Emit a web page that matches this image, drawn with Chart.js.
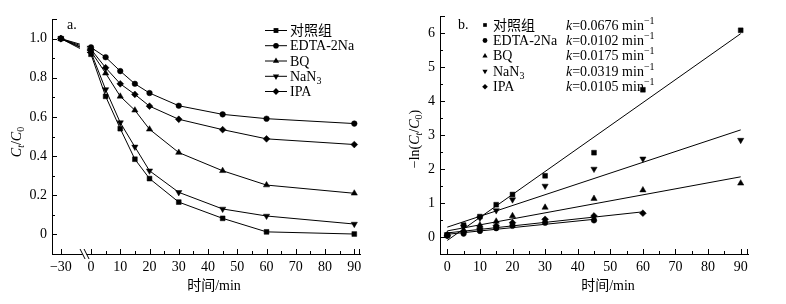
<!DOCTYPE html>
<html>
<head>
<meta charset="utf-8">
<script src="https://cdn.jsdelivr.net/npm/chart.js@4.4.1/dist/chart.umd.min.js"></script>
<style>
  html, body { margin: 0; padding: 0; background: #fff; }
  body { width: 786px; height: 304px; overflow: hidden; position: relative; }
  .wrap { position: absolute; top: 0; width: 393px; height: 304px; }
  #w1 { left: 0; }
  #w2 { left: 393px; }
</style>
</head>
<body>
<div class="wrap" id="w1"><canvas id="c1" width="393" height="304"></canvas></div>
<div class="wrap" id="w2"><canvas id="c2" width="393" height="304"></canvas></div>
<script>
// ================= DATA =================
// Panel a: Ct/C0 versus time (min); -30 is the dark adsorption start (broken axis)
const times = [-30, 0, 5, 10, 15, 20, 30, 45, 60, 90];
const seriesNames = ['对照组', 'EDTA-2Na', 'BQ', 'NaN3', 'IPA'];
const ctrlRatio = [1.0, 0.92, 0.705, 0.54, 0.384, 0.285, 0.165, 0.082, 0.013, 0.002];
const edtaRatio = [1.0, 0.955, 0.905, 0.834, 0.769, 0.722, 0.657, 0.613, 0.591, 0.566];
const bqRatio   = [1.0, 0.935, 0.823, 0.705, 0.634, 0.537, 0.418, 0.325, 0.252, 0.210];
const nan3Ratio = [1.0, 0.93, 0.740, 0.571, 0.447, 0.325, 0.215, 0.130, 0.094, 0.053];
const ipaRatio  = [1.0, 0.945, 0.851, 0.769, 0.715, 0.655, 0.588, 0.535, 0.488, 0.459];

// Panel b: -ln(Ct/C0) versus time (min)
const kTimes = [0, 5, 10, 15, 20, 30, 45, 60, 90];
const ctrlLn = [0.06, 0.35, 0.60, 0.95, 1.25, 1.80, 2.48, 4.33, 6.08];
const edtaLn = [0.04, 0.10, 0.18, 0.26, 0.33, 0.42, 0.49];
const bqLn   = [0.07, 0.20, 0.35, 0.46, 0.62, 0.87, 1.13, 1.38, 1.58];
const nan3Ln = [0.07, 0.30, 0.56, 0.78, 1.10, 1.50, 2.00, 2.30, 2.85];
const ipaLn  = [0.05, 0.16, 0.26, 0.33, 0.42, 0.52, 0.62, 0.70];

// Fitted lines (end points): times and values
const ctrlFitT = [0, 90]; const ctrlFit = [-0.10, 5.98];
const edtaFitT = [0, 45]; const edtaFit = [0.08, 0.52];
const bqFitT   = [0, 90]; const bqFit   = [0.18, 1.77];
const nan3FitT = [0, 90]; const nan3Fit = [0.29, 3.15];
const ipaFitT  = [0, 60]; const ipaFit  = [0.12, 0.74];
const kValues = ['0.0676', '0.0102', '0.0175', '0.0319', '0.0105'];

// Tick labels
const xTicksA = [-30, 0, 10, 20, 30, 40, 50, 60, 70, 80, 90];
const yTicksA = [0, 0.2, 0.4, 0.6, 0.8, 1.0];
const yLabelsA = ['0', '0.2', '0.4', '0.6', '0.8', '1.0'];
const xTicksB = [0, 10, 20, 30, 40, 50, 60, 70, 80, 90];
const yTicksB = [0, 1, 2, 3, 4, 5, 6];

// ================= STYLE / LAYOUT =================
const SERIF = "'Liberation Serif', 'Noto Sans CJK SC', serif";
const BREAK_POS = -10.3;        // plotted position of the -30 min point on the broken axis
const GAP_FROM = -3.8, GAP_TO = -1.4, BREAK_AT = -2.2;
const xPos = t => (t < 0 ? BREAK_POS : t);
const markers = [
  { style: 'rect', r: 3.4, rot: 0 },
  { style: 'circle', r: 2.8, rot: 0 },
  { style: 'triangle', r: 3.6, rot: 0 },
  { style: 'triangle', r: 3.6, rot: 180 },
  { style: 'rectRot', r: 3.4, rot: 0 }
];

function fontOf(p) {
  return (p.italic ? 'italic ' : '') + (p.size || 14) + 'px ' + SERIF;
}
function drawRich(ctx, parts, x, y, align) {
  let w = 0;
  parts.forEach(p => { ctx.font = fontOf(p); w += ctx.measureText(p.t).width; });
  let cx = align === 'center' ? x - w / 2 : x;
  ctx.textAlign = 'left';
  ctx.textBaseline = 'alphabetic';
  parts.forEach(p => {
    ctx.font = fontOf(p);
    ctx.fillText(p.t, cx, y + (p.dy || 0));
    cx += ctx.measureText(p.t).width;
  });
}
function nameParts(i) {
  if (i === 3) return [{ t: 'NaN' }, { t: '3', size: 10, dy: 3 }];
  return [{ t: seriesNames[i] }];
}
function drawMarker(ctx, style, r, rot, x, y) {
  ctx.save();
  ctx.translate(x, y);
  ctx.rotate(rot * Math.PI / 180);
  ctx.beginPath();
  if (style === 'rect') {
    const s = r * Math.SQRT1_2;
    ctx.rect(-s, -s, 2 * s, 2 * s);
  } else if (style === 'circle') {
    ctx.arc(0, 0, r, 0, Math.PI * 2);
  } else if (style === 'triangle') {
    for (let k = 0; k < 3; k++) {
      const a = k * 2 * Math.PI / 3;
      const px = Math.sin(a) * r, py = -Math.cos(a) * r;
      if (k === 0) ctx.moveTo(px, py); else ctx.lineTo(px, py);
    }
    ctx.closePath();
  } else if (style === 'rectRot') {
    ctx.moveTo(0, -r); ctx.lineTo(r, 0); ctx.lineTo(0, r); ctx.lineTo(-r, 0); ctx.closePath();
  }
  ctx.fillStyle = '#000';
  ctx.fill();
  ctx.restore();
}
function drawTicks(chart, xMajor, xMinor, yMajor, yMinor) {
  const { ctx, chartArea: a, scales: { x, y } } = chart;
  ctx.save();
  ctx.strokeStyle = '#000';
  ctx.lineWidth = 1;
  ctx.beginPath();
  const XP = v => Math.round(x.getPixelForValue(v)) + 0.5;
  const YP = v => Math.round(y.getPixelForValue(v)) + 0.5;
  xMajor.forEach(v => { const p = XP(v); ctx.moveTo(p, a.bottom); ctx.lineTo(p, a.bottom - 5); });
  xMinor.forEach(v => { const p = XP(v); ctx.moveTo(p, a.bottom); ctx.lineTo(p, a.bottom - 3); });
  yMajor.forEach(v => { const p = YP(v); ctx.moveTo(a.left, p); ctx.lineTo(a.left + 5, p); });
  yMinor.forEach(v => { const p = YP(v); ctx.moveTo(a.left, p); ctx.lineTo(a.left + 3, p); });
  // end caps
  const r = Math.round(a.right) - 0.5;
  ctx.moveTo(r, a.bottom); ctx.lineTo(r, a.bottom - 5);
  const t = Math.round(a.top) + 0.5;
  ctx.moveTo(a.left, t); ctx.lineTo(a.left + 5, t);
  ctx.stroke();
  ctx.restore();
}
function axisCommon(min, max, sizeKey, size) {
  return {
    type: 'linear', min, max,
    grid: { display: false, drawTicks: false },
    border: { display: true, color: '#000', width: 1 },
    ticks: { color: '#000', font: { family: SERIF, size: 14 }, padding: 5 },
    afterFit: s => { s[sizeKey] = size; }
  };
}

// ================= CHART A =================
const ratioSeries = [ctrlRatio, edtaRatio, bqRatio, nan3Ratio, ipaRatio];
const xA = axisCommon(-13.33, 91.95, 'height', 50);
xA.afterBuildTicks = s => { s.ticks = xTicksA.map(v => ({ value: xPos(v) })); };
xA.ticks.callback = (v) => { const t = xTicksA.find(q => Math.abs(xPos(q) - v) < 1e-6); return t < 0 ? '\u2212' + Math.abs(t) : String(t); };
const yA = axisCommon(-0.1, 1.1, 'width', 52);
yA.afterBuildTicks = s => { s.ticks = yTicksA.map(v => ({ value: v })); };
yA.ticks.callback = (v) => yLabelsA[yTicksA.findIndex(q => Math.abs(q - v) < 1e-6)];

const pluginA = {
  id: 'pa',
  afterDatasetsDraw(chart) {
    const { ctx, chartArea: a, scales: { x } } = chart;
    // break gap in lines
    const g1 = x.getPixelForValue(GAP_FROM), g2 = x.getPixelForValue(GAP_TO);
    ctx.save();
    ctx.fillStyle = '#fff';
    ctx.fillRect(g1, a.top, g2 - g1, a.bottom - a.top - 2);
    // break marks on x axis
    const bx = x.getPixelForValue(BREAK_AT);
    ctx.fillRect(bx - 2, a.bottom - 1.5, 4, 3);
    ctx.strokeStyle = '#000'; ctx.lineWidth = 1;
    ctx.beginPath();
    [-2, 2].forEach(d => {
      ctx.moveTo(bx + d - 2.5, a.bottom - 5);
      ctx.lineTo(bx + d + 2.5, a.bottom + 5);
    });
    ctx.stroke();
    ctx.restore();
  },
  afterDraw(chart) {
    const { ctx } = chart;
    drawTicks(chart, [0, 10, 20, 30, 40, 50, 60, 70, 80, 90].concat([BREAK_POS]),
      [5, 15, 25, 35, 45, 55, 65, 75, 85],
      yTicksA, [0.1, 0.3, 0.5, 0.7, 0.9]);
    ctx.save();
    ctx.fillStyle = '#000';
    // panel label
    drawRich(ctx, [{ t: 'a.' }], 67, 29);
    // legend
    const rowsY = [30, 45.2, 60.5, 75.8, 91];
    rowsY.forEach((cy, i) => {
      ctx.strokeStyle = '#000'; ctx.lineWidth = 1;
      ctx.beginPath(); ctx.moveTo(265, cy + 0.5); ctx.lineTo(287, cy + 0.5); ctx.stroke();
      const m = markers[i];
      drawMarker(ctx, m.style, m.r, m.rot, 276, cy + 0.5);
      drawRich(ctx, nameParts(i), 290, cy + 5);
    });
    // axis titles
    drawRich(ctx, [{ t: '时间/min' }], 214, 290, 'center');
    ctx.translate(16, 142);
    ctx.rotate(-Math.PI / 2);
    drawRich(ctx, [
      { t: 'C', italic: true }, { t: 't', italic: true, size: 10, dy: 3 },
      { t: '/' }, { t: 'C', italic: true }, { t: '0', size: 10, dy: 3 }
    ], 0, 5, 'center');
    ctx.restore();
  }
};

new Chart(document.getElementById('c1'), {
  type: 'line',
  data: {
    datasets: ratioSeries.map((vals, i) => ({
      label: seriesNames[i],
      data: times.map((t, j) => ({ x: xPos(t), y: vals[j] })),
      borderColor: '#000', backgroundColor: '#000', borderWidth: 1,
      pointStyle: markers[i].style, pointRadius: markers[i].r, pointRotation: markers[i].rot,
      pointBorderWidth: 0.5, tension: 0, fill: false
    }))
  },
  options: {
    responsive: false, animation: false,
    layout: { padding: { top: 19, right: 33, left: 0, bottom: 0 } },
    plugins: { legend: { display: false }, tooltip: { enabled: false } },
    scales: { x: xA, y: yA }
  },
  plugins: [pluginA]
});

// ================= CHART B =================
const lnSeries = [ctrlLn, edtaLn, bqLn, nan3Ln, ipaLn];
const fitT = [ctrlFitT, edtaFitT, bqFitT, nan3FitT, ipaFitT];
const fitV = [ctrlFit, edtaFit, bqFit, nan3Fit, ipaFit];
const xB = axisCommon(-2.24, 92.24, 'height', 50);
xB.afterBuildTicks = s => { s.ticks = xTicksB.map(v => ({ value: v })); };
const yB = axisCommon(-0.5, 6.5, 'width', 47);
yB.afterBuildTicks = s => { s.ticks = yTicksB.map(v => ({ value: v })); };

const pluginB = {
  id: 'pb',
  afterDraw(chart) {
    const { ctx } = chart;
    drawTicks(chart, xTicksB, [5, 15, 25, 35, 45, 55, 65, 75, 85],
      yTicksB, [0.5, 1.5, 2.5, 3.5, 4.5, 5.5]);
    ctx.save();
    ctx.fillStyle = '#000';
    drawRich(ctx, [{ t: 'b.' }], 65, 29);
    const rowsY = [24.5, 40, 55.4, 70.8, 86.2];
    const smallR = [2.6, 2.4, 3.0, 3.0, 2.8];
    rowsY.forEach((cy, i) => {
      const m = markers[i];
      drawMarker(ctx, m.style, smallR[i], m.rot, 92, cy + 0.5);
      drawRich(ctx, nameParts(i), 100, cy + 5);
      drawRich(ctx, [
        { t: 'k', italic: true }, { t: '=' + kValues[i] + ' min' },
        { t: '\u22121', size: 10, dy: -6 }
      ], 173, cy + 5);
    });
    drawRich(ctx, [{ t: '时间/min' }], 215, 290, 'center');
    ctx.translate(21, 139);
    ctx.rotate(-Math.PI / 2);
    drawRich(ctx, [
      { t: '\u2212ln(' }, { t: 'C', italic: true }, { t: 't', italic: true, size: 10, dy: 3 },
      { t: '/' }, { t: 'C', italic: true }, { t: '0', size: 10, dy: 3 }, { t: ')' }
    ], 0, 5, 'center');
    ctx.restore();
  }
};

const dsB = [];
fitV.forEach((v, i) => {
  dsB.push({
    type: 'line', label: seriesNames[i] + ' fit',
    data: fitT[i].map((t, j) => ({ x: t, y: v[j] })),
    borderColor: '#000', borderWidth: 1, pointRadius: 0, tension: 0, fill: false
  });
});
lnSeries.forEach((vals, i) => {
  dsB.push({
    type: 'scatter', label: seriesNames[i],
    data: vals.map((v, j) => ({ x: kTimes[j], y: v })),
    borderColor: '#000', backgroundColor: '#000', showLine: false,
    pointStyle: markers[i].style, pointRadius: markers[i].r, pointRotation: markers[i].rot,
    pointBorderWidth: 0.5
  });
});

new Chart(document.getElementById('c2'), {
  type: 'scatter',
  data: { datasets: dsB },
  options: {
    responsive: false, animation: false,
    layout: { padding: { top: 16, right: 38, left: 0, bottom: 0 } },
    plugins: { legend: { display: false }, tooltip: { enabled: false } },
    scales: { x: xB, y: yB }
  },
  plugins: [pluginB]
});
</script>
</body>
</html>
